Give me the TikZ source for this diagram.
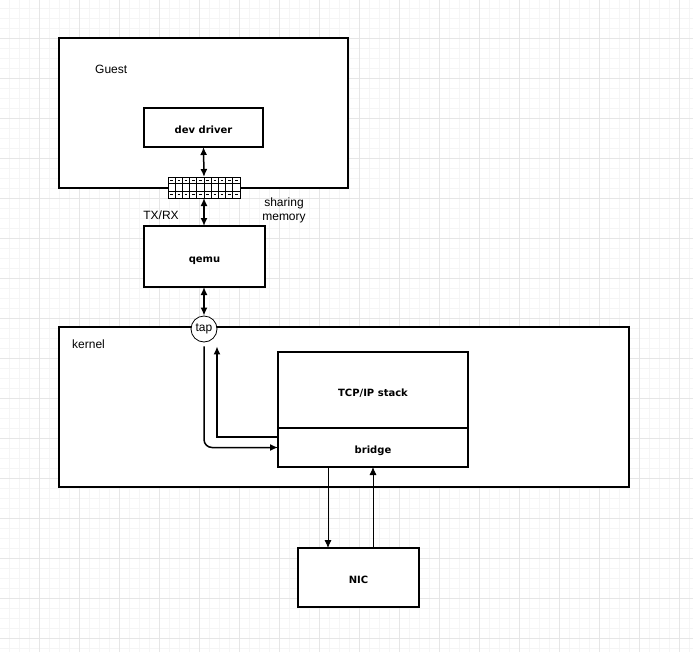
\documentclass[tikz,border=0pt]{standalone}
\usepackage{fontspec}
\setmainfont{Liberation Sans}
\newfontfamily\sketchfont{DejaVu Sans}
\usepackage{xcolor}
\usetikzlibrary{arrows.meta,calc,positioning}

\definecolor{gridminor}{HTML}{F5F5F5}
\definecolor{gridmajor}{HTML}{E6E6E6}

\begin{document}
\begin{tikzpicture}[>={Latex[length=8bp,width=7bp]},
	box/.style={draw, line width=1.6bp, fill=white, outer sep=0pt, inner sep=0pt},
	bold/.style={font=\sketchfont\bfseries\fontsize{10bp}{12bp}\selectfont, text height=12bp, text depth=0bp},
	lbl/.style={font=\fontsize{12bp}{13.5bp}\selectfont, inner sep=0pt},
	link/.style={line width=1.5bp},
	thinlink/.style={line width=0.8bp}]
	\useasboundingbox (0bp,0bp) rectangle (693bp,-652bp);

	% background grid
	\begin{scope}
		\clip (0bp,0bp) rectangle (693bp,-652bp);
		\begin{scope}[shift={(-1bp,2bp)}]
			\draw[gridminor, line width=0.7bp, step=10bp] (0bp,10bp) grid (710bp,-670bp);
			\draw[gridmajor, line width=0.7bp, step=40bp] (0bp,40bp) grid (720bp,-680bp);
		\end{scope}
	\end{scope}

	\node ({guest}) [box, minimum width=289bp, minimum height=150bp] at (203.5bp,-113bp) {};
	\node ({guestlbl}) [lbl, anchor=west] at (95bp,-69bp) {Guest};
	\node ({devd}) [box, bold, minimum width=119bp, minimum height=39bp] at (203.5bp,-127.5bp) {dev driver};

	%shared ring between guest and qemu
	\node ({mem}) [draw, line width=0.9bp, fill=white, outer sep=0pt, minimum width=72bp, minimum height=21bp] at (204bp,-187.5bp) {};
	\foreach \i in {1,...,9}
		\draw[line width=0.7bp] ($(mem.north west)+(\i*7.2bp,0)$) -- ($(mem.south west)+(\i*7.2bp,0)$);
	\draw[line width=0.7bp] ($(mem.north west)+(0,-6.5bp)$) -- ($(mem.north east)+(0,-6.5bp)$);
	\draw[line width=0.7bp] ($(mem.south west)+(0,6.5bp)$) -- ($(mem.south east)+(0,6.5bp)$);
	\foreach \i in {0,...,9} {
		\draw[line width=0.6bp] ($(mem.north west)+(\i*7.2bp+2.3bp,-3.25bp)$) -- ++(2.6bp,0);
		\draw[line width=0.6bp] ($(mem.south west)+(\i*7.2bp+2.3bp,3.25bp)$) -- ++(2.6bp,0);
	}

	\node ({txrx}) [lbl] at (161bp,-215bp) {TX/RX};
	\node ({share}) [lbl, align=center] at (284bp,-210.5bp) {sharing\\memory};

	\node ({qemu}) [box, bold, minimum width=121bp, minimum height=61bp] at (204.5bp,-256.5bp) {qemu};

	\node ({kernel}) [box, minimum width=570bp, minimum height=160bp] at (344bp,-407bp) {};
	\node ({kernellbl}) [lbl, anchor=west] at (72bp,-344bp) {kernel};
	\node ({tap}) [draw, circle, line width=0.8bp, fill=white, minimum size=26bp, inner sep=0pt, lbl] at (204bp,-329bp) {tap};

	\node ({tcp}) [box, bold, minimum width=190bp, minimum height=76bp] at (373bp,-390bp) {TCP/IP stack};
	\node ({bridge}) [box, bold, minimum width=190bp, minimum height=39bp, below=0pt of tcp] {bridge};

	\node ({nic}) [box, bold, minimum width=121bp, minimum height=59bp] at (358.5bp,-577.5bp) {NIC};

	\draw[link, <->] (devd.south) -- (mem.north);
	\draw[link, <->] (mem.south) -- (mem.south |- qemu.north);
	\draw[link, <->] (qemu.south -| tap.north) -- (tap.north);

	\draw[link, ->, rounded corners=8bp] ([yshift=-4bp]tap.south) |- (bridge.west);
	\draw[link, ->] ([yshift=10.5bp]bridge.west) -| ([xshift=13bp,yshift=-4bp]tap.south);

	\draw[thinlink, ->] ([xshift=-45bp]bridge.south) -- ([xshift=-45bp]bridge.south |- nic.north);
	\draw[thinlink, ->] (nic.north -| bridge.south) -- (bridge.south);
\end{tikzpicture}
\end{document}
